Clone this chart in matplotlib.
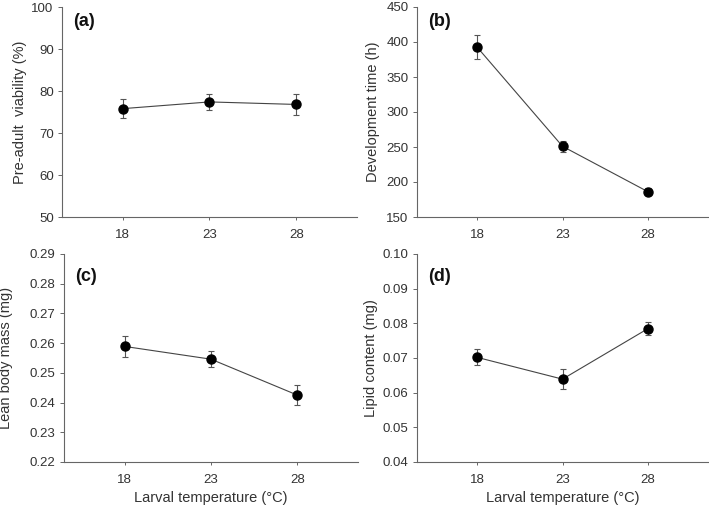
import matplotlib
matplotlib.use("Agg")
import matplotlib.pyplot as plt

plt.rcParams['font.family'] = ['Liberation Sans', 'DejaVu Sans']

temps = [18, 23, 28]
tick_labels = ["18", "23", "28"]

viability = [75.8, 77.4, 76.8]
viability_err = [2.2, 2.0, 2.4]

dev_time = [393, 251, 186]
dev_time_err = [17, 8, 5]

lean_mass = [0.2589, 0.2546, 0.2425]
lean_mass_err = [0.0034, 0.0026, 0.0034]

lipid = [0.0702, 0.0639, 0.0785]
lipid_err = [0.0023, 0.0029, 0.0018]

panels = [
    ("(a)", "Pre-adult  viability (%)", viability, viability_err, (50, 100), [50, 60, 70, 80, 90, 100], "{:.0f}"),
    ("(b)", "Development time (h)", dev_time, dev_time_err, (150, 450), [150, 200, 250, 300, 350, 400, 450], "{:.0f}"),
    ("(c)", "Lean body mass (mg)", lean_mass, lean_mass_err, (0.22, 0.29), [0.22, 0.23, 0.24, 0.25, 0.26, 0.27, 0.28, 0.29], "{:.2f}"),
    ("(d)", "Lipid content (mg)", lipid, lipid_err, (0.04, 0.10), [0.04, 0.05, 0.06, 0.07, 0.08, 0.09, 0.10], "{:.2f}"),
]

W, H = 709, 508
rects_px = [
    (62, 357, 7, 217),
    (417, 708, 7, 217),
    (64, 358, 254, 462),
    (417, 708, 254, 462),
]
ylabel_x = [-0.119, -0.127, -0.173, -0.134]

fig = plt.figure(figsize=(W / 100, H / 100), dpi=100)
text_col = "#333333"
spine_col = "#666666"

for (lab, ylab, vals, errs, ylim, yticks, fmt), (l, r, t, b), lx in zip(panels, rects_px, ylabel_x):
    ax = fig.add_axes([l / W, (H - b) / H, (r - l) / W, (b - t) / H])
    ax.errorbar(temps, vals, yerr=errs, color="#444444", lw=0.8, marker="o",
                ms=6.5, mfc="black", mec="black", ecolor="#555555",
                elinewidth=0.8, capsize=2.3, capthick=0.8)
    ax.set_xlim(14.5, 31.5)
    ax.set_ylim(*ylim)
    ax.set_xticks(temps)
    ax.set_xticklabels(tick_labels)
    ax.set_yticks(yticks)
    ax.set_yticklabels([fmt.format(v) for v in yticks])
    for s in ["top", "right"]:
        ax.spines[s].set_visible(False)
    for s in ["left", "bottom"]:
        ax.spines[s].set_color(spine_col)
        ax.spines[s].set_linewidth(0.8)
    ax.tick_params(axis="both", colors=spine_col, labelcolor=text_col,
                   labelsize=9.5, width=0.7)
    ax.tick_params(axis="x", length=2.5, pad=6)
    ax.tick_params(axis="y", length=3, pad=3)
    ax.set_ylabel(ylab, fontsize=10.5, color=text_col)
    ax.yaxis.set_label_coords(lx, 0.5)
    ax.text(0.037, 0.93 if lab in ("(a)", "(b)") else 0.89, lab,
            transform=ax.transAxes, fontsize=13, fontweight="bold",
            color="#111111", va="center", ha="left")
    if lab in ("(c)", "(d)"):
        ax.set_xlabel("Larval temperature (\u00b0C)", fontsize=10.5,
                      color=text_col, labelpad=4)

fig.savefig("out.png", dpi=100)
